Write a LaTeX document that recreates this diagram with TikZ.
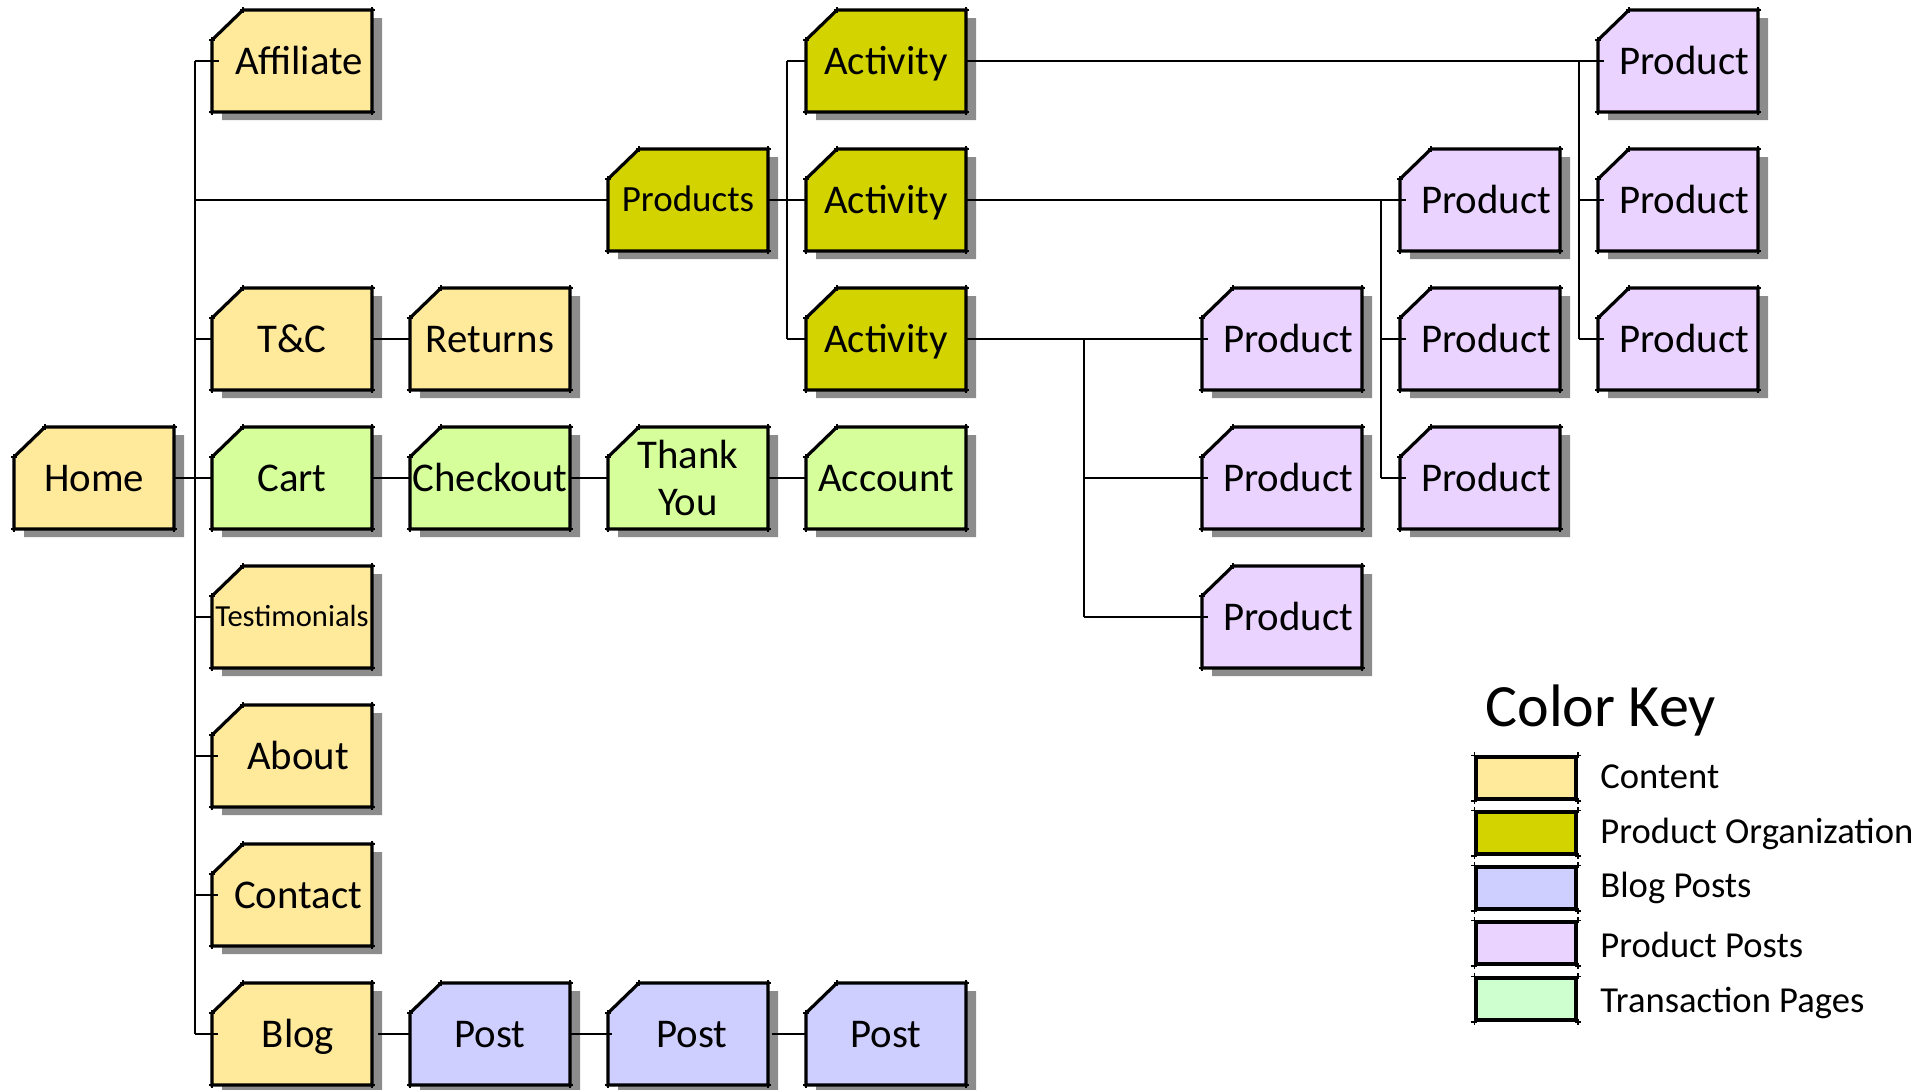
\documentclass[tikz,border=0pt]{standalone}
\usepackage{fontspec}
\setmainfont{Carlito}
\usetikzlibrary{shadows}

\definecolor{content}{RGB}{255,234,156}
\definecolor{prodorg}{RGB}{211,211,0}
\definecolor{blogpost}{RGB}{206,207,255}
\definecolor{prodpost}{RGB}{234,212,255}
\definecolor{transact}{RGB}{214,255,156}
\definecolor{transkey}{RGB}{206,255,206}

\tikzset{
  pageshape/.style={draw=black, line width=1.6pt, line join=miter,
    drop shadow={shadow xshift=5pt, shadow yshift=-4pt, fill=black!45, opacity=1}},
  pagelabel/.style={minimum width=80pt, minimum height=51pt, inner sep=0pt, outer sep=0pt,
    text height=13pt, text depth=0pt, font=\fontsize{20.4}{23.5}\selectfont},
  tickmark/.style={draw=black, line width=0.9pt},
  link/.style={draw=black, line width=1.3pt},
  swatch/.style={draw=black, line width=1.6pt, minimum width=50pt, minimum height=21pt, inner sep=0pt},
  keytext/.style={font=\fontsize{18.3}{21}\selectfont, inner sep=0pt}
}

% page box with cut top-left corner: [text opts]{name}{x}{y}{colour}{text}
\newcommand{\webpage}[6][]{%
  \path[pageshape, fill=#5] ({#3-80},{#4-21}) -- ({#3-49},{#4-51}) -- ({#3+80},{#4-51})
    -- ({#3+80},{#4+51}) -- ({#3-80},{#4+51}) -- cycle;
  \draw[tickmark] ({#3-80},{#4-21}) +(-3,0) -- +(3,0) +(0,-3) -- +(0,3)
    ({#3-49},{#4-51}) +(-3,0) -- +(3,0) +(0,-3) -- +(0,3)
    ({#3+80},{#4-51}) +(-3,0) -- +(3,0) +(0,-3) -- +(0,3)
    ({#3+80},{#4+51}) +(-3,0) -- +(3,0) +(0,-3) -- +(0,3)
    ({#3-80},{#4+51}) +(-3,0) -- +(3,0) +(0,-3) -- +(0,3);
  \node[pagelabel,#1] (#2) at (#3,#4) {#6};
}

\begin{document}
\begin{tikzpicture}[x=0.5pt, y=-0.5pt]
  \useasboundingbox (0,0) rectangle (1922,1089);

  % bus lines first
  \coordinate (hub) at (195,478);
  \coordinate (actbus) at (787,200);
  \coordinate (busA) at (1579,61);
  \coordinate (busB) at (1381,200);
  \coordinate (busC) at (1084,339);

  % site pages
  \webpage{home}{94}{478}{content}{Home}
  \webpage[xshift=3.5pt]{affiliate}{292}{61}{content}{Affiliate}
  \webpage{tandc}{292}{339}{content}{T\&C}
  \webpage{returns}{490}{339}{content}{Returns}
  \webpage{cart}{292}{478}{transact}{Cart}
  \webpage{checkout}{490}{478}{transact}{Checkout}
  \webpage[align=center, text height=, text depth=]{thanks}{688}{478}{transact}{Thank\\You}
  \webpage{account}{886}{478}{transact}{Account}
  \webpage[font=\fontsize{15.3}{18}\selectfont, text height=9.7pt]{testimonials}{292}{617}{content}{Testimonials}
  \webpage[xshift=3pt]{about}{292}{756}{content}{About}
  \webpage[xshift=3pt]{contact}{292}{895}{content}{Contact}
  \webpage[xshift=3pt]{blog}{292}{1034}{content}{Blog}
  \webpage{postA}{490}{1034}{blogpost}{Post}
  \webpage[xshift=2pt]{postB}{688}{1034}{blogpost}{Post}
  \webpage{postC}{886}{1034}{blogpost}{Post}

  % product tree
  \webpage[font=\fontsize{18.5}{21}\selectfont, text height=11.7pt]{products}{688}{200}{prodorg}{Products}
  \webpage{actA}{886}{61}{prodorg}{Activity}
  \webpage{actB}{886}{200}{prodorg}{Activity}
  \webpage{actC}{886}{339}{prodorg}{Activity}
  \webpage[xshift=3pt]{prodA1}{1678}{61}{prodpost}{Product}
  \webpage[xshift=3pt]{prodA2}{1678}{200}{prodpost}{Product}
  \webpage[xshift=3pt]{prodA3}{1678}{339}{prodpost}{Product}
  \webpage[xshift=3pt]{prodB1}{1480}{200}{prodpost}{Product}
  \webpage[xshift=3pt]{prodB2}{1480}{339}{prodpost}{Product}
  \webpage[xshift=3pt]{prodB3}{1480}{478}{prodpost}{Product}
  \webpage[xshift=3pt]{prodC1}{1282}{339}{prodpost}{Product}
  \webpage[xshift=3pt]{prodC2}{1282}{478}{prodpost}{Product}
  \webpage[xshift=3pt]{prodC3}{1282}{617}{prodpost}{Product}

  % main menu
  \draw[link] (affiliate.west -| hub) -- (blog.west -| hub);
  \draw[link] (home.east) -- (cart.west -| cart.south west);
  \foreach \n in {affiliate,products,tandc,testimonials,about,contact,blog}
    \draw[link] (\n.west -| hub) -- (\n.west -| \n.south west);
  \draw[link] (tandc.east) -- (returns.west);
  \draw[link] (cart.east) -- (checkout.west);
  \draw[link] (checkout.east) -- (thanks.west);
  \draw[link] (thanks.east) -- (account.west);
  \draw[link] (blog.east -| blog.south east) -- (postA.west);
  \draw[link] (postA.east) -- (postB.west -| postB.south west);
  \draw[link] (postB.east -| postB.south east) -- (postC.west);

  % products
  \draw[link] (products.east) -- (actB.west);
  \draw[link] (actA.west -| actbus) -- (actC.west -| actbus);
  \foreach \n in {actA,actC}
    \draw[link] (\n.west -| actbus) -- (\n.west);
  \draw[link] (actA.east) -- (prodA1.west -| prodA1.south west);
  \draw[link] (actB.east) -- (prodB1.west -| prodB1.south west);
  \draw[link] (actC.east) -- (prodC1.west -| prodC1.south west);
  \draw[link] (prodA1.west -| busA) -- (prodA3.west -| busA);
  \draw[link] (prodB1.west -| busB) -- (prodB3.west -| busB);
  \draw[link] (prodC1.west -| busC) -- (prodC3.west -| busC);
  \foreach \n/\b in {prodA2/busA,prodA3/busA,prodB2/busB,prodB3/busB,prodC2/busC,prodC3/busC}
    \draw[link] (\n.west -| \b) -- (\n.west -| \n.south west);

  % colour key
  \node[anchor=base west, inner sep=0pt, font=\fontsize{30}{35}\selectfont] (keytitle) at (1485,726) {Color Key};
  \foreach \i/\y/\b/\c/\t in {1/778/788/content/Content,
      2/833/843/prodorg/Product Organization,
      3/888/897/blogpost/Blog Posts,
      4/943/957/prodpost/Product Posts,
      5/999/1012/transkey/Transaction Pages}{
    \node[swatch, fill=\c] (sw\i) at (1526,\y) {};
    \draw[tickmark] (sw\i.north west) +(-3,0) -- +(3,0) +(0,-3) -- +(0,3)
      (sw\i.north east) +(-3,0) -- +(3,0) +(0,-3) -- +(0,3)
      (sw\i.south east) +(-3,0) -- +(3,0) +(0,-3) -- +(0,3)
      (sw\i.south west) +(-3,0) -- +(3,0) +(0,-3) -- +(0,3);
    \node[keytext, anchor=base west] (kt\i) at (1600,\b) {\t};
  }
\end{tikzpicture}
\end{document}
